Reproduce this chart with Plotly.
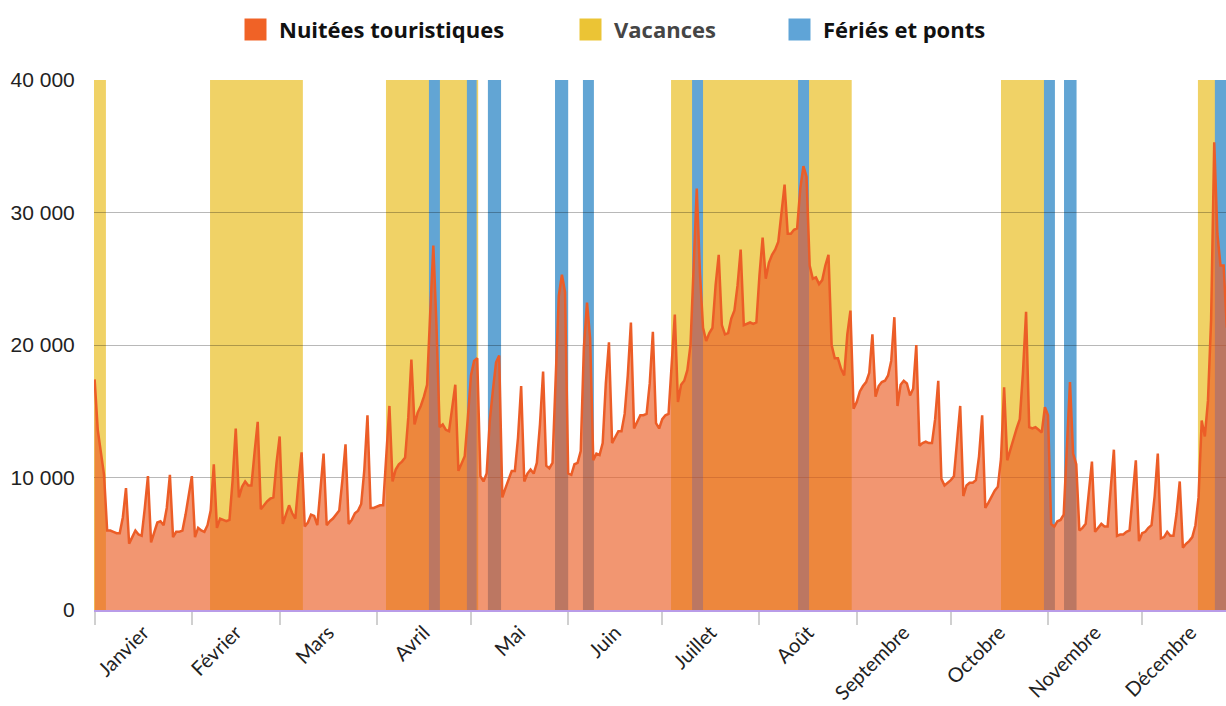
import plotly.graph_objects as go

### donnees : nuitees touristiques par jour (jour 0 = 1er janvier)
nuitees = [
    17400, 13600, 11900, 10200, 6000, 6000, 5900, 5800, 5800, 7000,
    9200, 5000, 5500, 6000, 5700, 5600, 7700, 10100, 5100, 5900,
    6600, 6700, 6400, 7700, 10200, 5500, 5900, 5900, 6000, 7200,
    8800, 10100, 5500, 6200, 6000, 5900, 6400, 7500, 11000, 6200,
    6900, 6800, 6700, 6800, 9800, 13700, 8500, 9300, 9700, 9400,
    9400, 11900, 14200, 7600, 7900, 8200, 8400, 8500, 11100, 13100,
    6500, 7200, 7900, 7300, 6900, 9600, 11900, 6300, 6600, 7200,
    7100, 6400, 9300, 11800, 6400, 6700, 6900, 7200, 7500, 9800,
    12500, 6500, 6800, 7300, 7500, 8000, 10600, 14700, 7700, 7700,
    7800, 7900, 7900, 11900, 15400, 9700, 10600, 11000, 11200, 11500,
    14500, 18900, 14000, 14900, 15400, 16100, 17000, 22400, 27500, 21500,
    13800, 14000, 13600, 13500, 15300, 17000, 10500, 11100, 11600, 14500,
    17700, 18800, 19000, 10100, 9700, 10300, 14300, 16600, 18700, 19200,
    8500, 9200, 9900, 10500, 10500, 13000, 16900, 9700, 10300, 10600,
    10300, 11100, 14000, 18000, 10900, 10700, 11100, 17100, 23700, 25300,
    24000, 10300, 10200, 11000, 11100, 12000, 19800, 23200, 20500, 11300,
    11800, 11700, 12600, 17100, 20200, 12600, 13100, 13500, 13500, 14800,
    17700, 21700, 13700, 14200, 14700, 14700, 14800, 17100, 21000, 14100,
    13700, 14400, 14700, 14800, 18500, 22300, 15700, 17000, 17300, 18100,
    20000, 25500, 31800, 25500, 21300, 20300, 20900, 21300, 24500, 26800,
    21500, 20800, 20900, 22000, 22600, 24500, 27200, 21500, 21600, 21700,
    21600, 21700, 25300, 28100, 25000, 26200, 26800, 27200, 27800, 30200,
    32100, 28400, 28400, 28700, 28800, 31800, 33500, 32700, 26000, 25000,
    25100, 24600, 24900, 26000, 26800, 20000, 19000, 19000, 18200, 17700,
    20800, 22600, 15200, 15700, 16500, 16900, 17200, 17900, 20800, 16100,
    16900, 17200, 17300, 17700, 18800, 22100, 15400, 17000, 17300, 17100,
    16200, 16700, 20000, 12400, 12600, 12700, 12600, 12600, 14400, 17300,
    9900, 9400, 9600, 9800, 10100, 12800, 15400, 8600, 9400, 9600,
    9600, 9800, 11600, 14700, 7700, 8100, 8600, 9000, 9300, 11400,
    16800, 11300, 12100, 13000, 13700, 14400, 17900, 22500, 13800, 13700,
    13800, 13600, 13400, 15300, 14700, 6500, 6300, 6700, 6800, 7200,
    12200, 17200, 11800, 11000, 6000, 6200, 6500, 9000, 11200, 5900,
    6200, 6500, 6300, 6300, 9200, 12100, 5600, 5700, 5700, 5900,
    6000, 8400, 11300, 5200, 5800, 5900, 6200, 6400, 8600, 11800,
    5400, 5500, 5900, 5600, 5600, 7300, 9700, 4700, 5000, 5200,
    5500, 6400, 8500, 14300, 13100, 15800, 21900, 35300, 28400, 26000,
    26000, 21300,
]
jours = list(range(len(nuitees)))

### periodes (debut, fin) en jours
vacances = [(-0.5, 3.6), (36.8, 66.4), (92.9, 122.3), (183.8, 241.4), (289.0, 304.2), (351.8, 365)]
feries = [(106.6, 110.1), (118.7, 121.8), (125.4, 129.6), (146.8, 151.0), (155.7, 159.2),
          (190.5, 194.0), (224.3, 227.8), (302.7, 306.2), (309.1, 313.1), (357.2, 365)]

mois = ["Janvier", "Février", "Mars", "Avril", "Mai", "Juin", "Juillet", "Août",
        "Septembre", "Octobre", "Novembre", "Décembre"]
debut_mois = [0, 31, 59, 90, 120, 151, 181, 212, 243, 273, 304, 334, 365]
milieu_mois = [(debut_mois[k] + debut_mois[k + 1]) / 2 for k in range(12)]

col_nuit = "#EC5D27"
col_vac = "#F0D266"
col_fer = "#62A5D4"

fig = go.Figure()
fig.add_trace(go.Scatter(x=jours, y=nuitees, mode="lines", fill="tozeroy",
                         line=dict(color=col_nuit, width=2.5),
                         fillcolor="rgba(235,95,40,0.66)", showlegend=False,
                         hoverinfo="skip"))

### bandes vacances / feries en fond
shapes = []
for d, f in vacances:
    shapes.append(dict(type="rect", xref="x", yref="y", x0=d, x1=f, y0=0, y1=40000,
                       fillcolor=col_vac, line_width=0, layer="below"))
for d, f in feries:
    shapes.append(dict(type="rect", xref="x", yref="y", x0=d, x1=f, y0=0, y1=40000,
                       fillcolor=col_fer, line_width=0, layer="below"))

### legende faite a la main (pixels de la page -> paper)
W, H = 1226, 706
ML, MR, MT, MB = 94, 0, 80, 96
def px(xp):
    return (xp - ML) / (W - ML - MR)
def py(yp):
    return (H - MB - yp) / (H - MT - MB)

leg = [("Nuitées touristiques", "#F06226", "#111111", 244.5),
       ("Vacances", "#EBC435", "#454545", 579.5),
       ("Fériés et ponts", "#5FA4D7", "#111111", 788.5)]
annots = []
for nom, c, ct, x0 in leg:
    shapes.append(dict(type="rect", xref="paper", yref="paper", x0=px(x0), x1=px(x0 + 22),
                       y0=py(40.5), y1=py(18.5), fillcolor=c, line_width=0, layer="above"))
    annots.append(dict(text="<b>" + nom + "</b>", xref="paper", yref="paper", x=px(x0 + 32),
                       y=py(29.5), xanchor="left", yanchor="middle", showarrow=False,
                       font=dict(family="Open Sans", size=22, color=ct)))

fig.update_layout(
    width=W, height=H,
    margin=dict(l=ML, r=MR, t=MT, b=MB),
    plot_bgcolor="white", paper_bgcolor="white",
    shapes=shapes, annotations=annots,
    separators=", ",
    showlegend=False,
)
fig.update_xaxes(range=[-0.2, 360.75], tickmode="array", tickvals=milieu_mois, ticktext=mois,
                 tickangle=-45, ticks="outside", ticklen=1, tickcolor="rgba(0,0,0,0)",
                 tickfont=dict(family="Lato", size=20, color="#222"), automargin=False,
                 showgrid=False, zeroline=False, showline=True, linecolor="#B99CE8", linewidth=2,
                 minor=dict(tickvals=debut_mois, ticks="outside", ticklen=13, tickwidth=2,
                            tickcolor="#D0D0D0", showgrid=False))
fig.update_yaxes(range=[0, 40000], tickmode="array", tickvals=[0, 10000, 20000, 30000, 40000],
                 tickformat=",d", ticks="outside", ticklen=14, tickcolor="rgba(0,0,0,0)",
                 tickfont=dict(family="Liberation Sans", size=21, color="#222"), automargin=False,
                 showgrid=True, gridcolor="rgba(0,0,0,0.28)", gridwidth=1, zeroline=False)

### la page n'a pas de marge, la figure occupe toute la fenetre
fig.write_html("out.html", config={"displayModeBar": False},
               post_script="document.body.style.margin='0';")
